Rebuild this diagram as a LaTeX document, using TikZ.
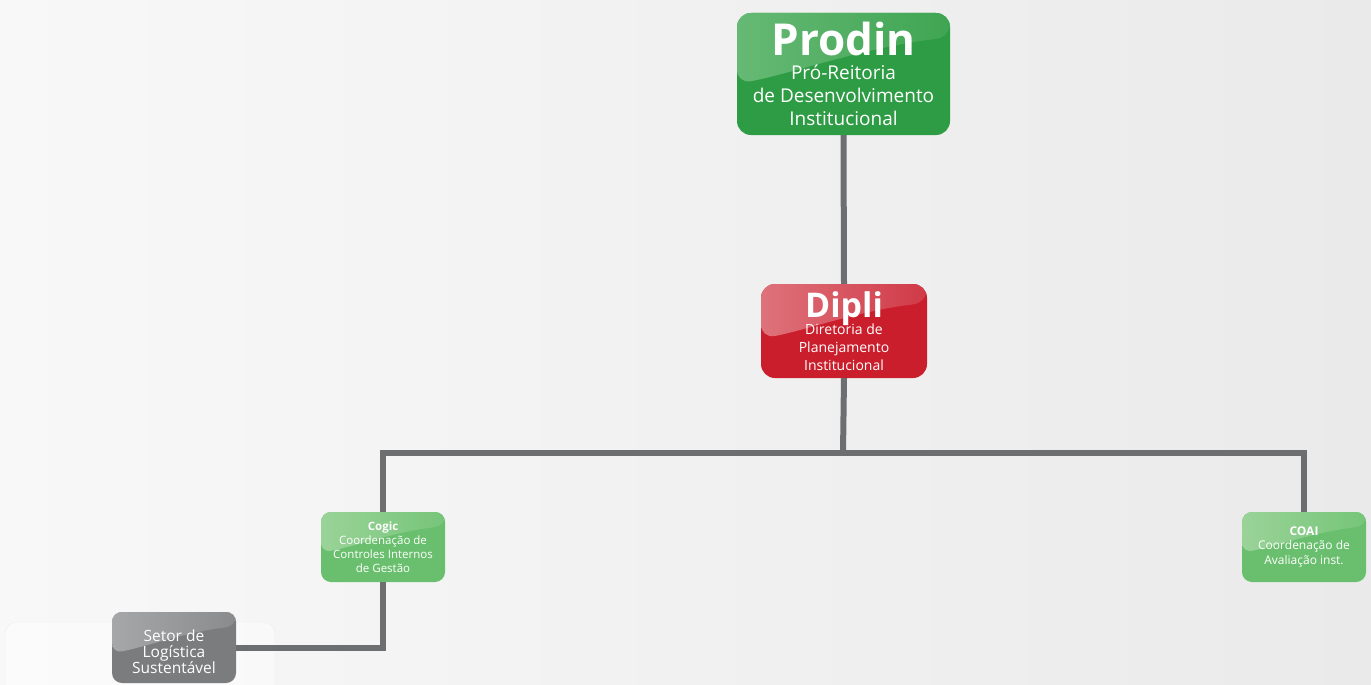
\documentclass[tikz,border=0pt]{standalone}
\usepackage{fontspec}
\setmainfont{Open Sans}
\usetikzlibrary{calc}
\definecolor{linegray}{HTML}{6D6E70}
\definecolor{bgL}{HTML}{F8F8F8}
\definecolor{bgR}{HTML}{EAEAEA}
\definecolor{prodinC}{HTML}{2E9C44}
\definecolor{prodinGL}{HTML}{66B974}
\definecolor{prodinGR}{HTML}{3FA553}
\definecolor{dipliC}{HTML}{CB1E2C}
\definecolor{dipliGL}{HTML}{DE727B}
\definecolor{dipliGR}{HTML}{D03A47}
\definecolor{coordC}{HTML}{69BF6D}
\definecolor{coordGL}{HTML}{9AD398}
\definecolor{coordGR}{HTML}{76C579}
\definecolor{setorC}{HTML}{7B7C7E}
\definecolor{setorGL}{HTML}{A6A7A9}
\definecolor{setorGR}{HTML}{8A8B8D}
\tikzset{
  orgbox/.style n args={3}{
    fill=#1, rounded corners=14pt, text=white, align=center, inner sep=0pt,
    path picture={
      % glossy highlight over the upper part of the box
      \coordinate (gNW) at (path picture bounding box.north west);
      \coordinate (gNE) at (path picture bounding box.north east);
      \coordinate (gSW) at (path picture bounding box.south west);
      \coordinate (gSE) at (path picture bounding box.south east);
      \shade[left color=#2, right color=#3]
        (gNW) -- (gNE) -- ($(gNE)!0.2!(gSE)$)
        .. controls ($($(gNW)!0.6!(gNE)$)!0.28!($(gSW)!0.6!(gSE)$)$)
        and ($($(gNW)!0.25!(gNE)$)!0.5!($(gSW)!0.25!(gSE)$)$)
        .. ($(gNW)!0.58!(gSW)$) -- cycle;
    }},
  link/.style={draw=linegray, line width=6pt}
}
\begin{document}
\begin{tikzpicture}[x=1pt, y=-1pt]
  % page and backdrop
  \shade[left color=bgL, right color=bgR] (0,0) rectangle (1371,685);
  \useasboundingbox (0,0) rectangle (1371,685);
  \fill[white, opacity=0.45, draw=black!12, rounded corners=12pt] (5,622) rectangle (275,700);

  % boxes
  \node[orgbox={prodinC}{prodinGL}{prodinGR}, minimum width=213pt, minimum height=122pt,
        font=\fontsize{19}{23}\selectfont] (prodin) at (843.5,74)
    {{\fontsize{44}{44}\selectfont\bfseries Prodin}\\[1pt]Pró-Reitoria\\de Desenvolvimento\\Institucional};
  \node[orgbox={dipliC}{dipliGL}{dipliGR}, minimum width=166pt, minimum height=94pt,
        font=\fontsize{14}{18}\selectfont] (dipli) at (844,331)
    {{\fontsize{34}{34}\selectfont\bfseries Dipli}\\[-3pt]Diretoria de\\Planejamento\\Institucional};
  \node[orgbox={coordC}{coordGL}{coordGR}, rounded corners=10pt, minimum width=124pt, minimum height=70pt,
        font=\fontsize{11.5}{14}\selectfont] (cogic) at (383,547)
    {{\bfseries Cogic}\\Coordenação de\\Controles Internos\\de Gestão};
  \node[orgbox={coordC}{coordGL}{coordGR}, rounded corners=10pt, minimum width=124pt, minimum height=70pt,
        font=\fontsize{12}{14.5}\selectfont] (coai) at (1304,547)
    {{\bfseries COAI}\\Coordenação de\\Avaliação inst.};
  \node[orgbox={setorC}{setorGL}{setorGR}, rounded corners=10pt, minimum width=124pt, minimum height=71pt,
        font=\fontsize{15.5}{16}\selectfont] (setor) at (174,647.5)
    {\raisebox{-4pt}[\height][\depth]{\parbox{120pt}{\centering Setor de\\Logística\\Sustentável}}};

  % bus coordinates
  \coordinate (busM) at (843,453);
  \coordinate (busL) at (383,453);
  \coordinate (busR) at (1304,453);

  % connectors
  \draw[link] (prodin.south) -- (dipli.north);
  \draw[link] (dipli.south) -- (busM);
  \draw[link] (cogic.north) -- (busL) -- (busR) -- (coai.north);
  \draw[link] (cogic.south) |- (setor.east);
\end{tikzpicture}
\end{document}
